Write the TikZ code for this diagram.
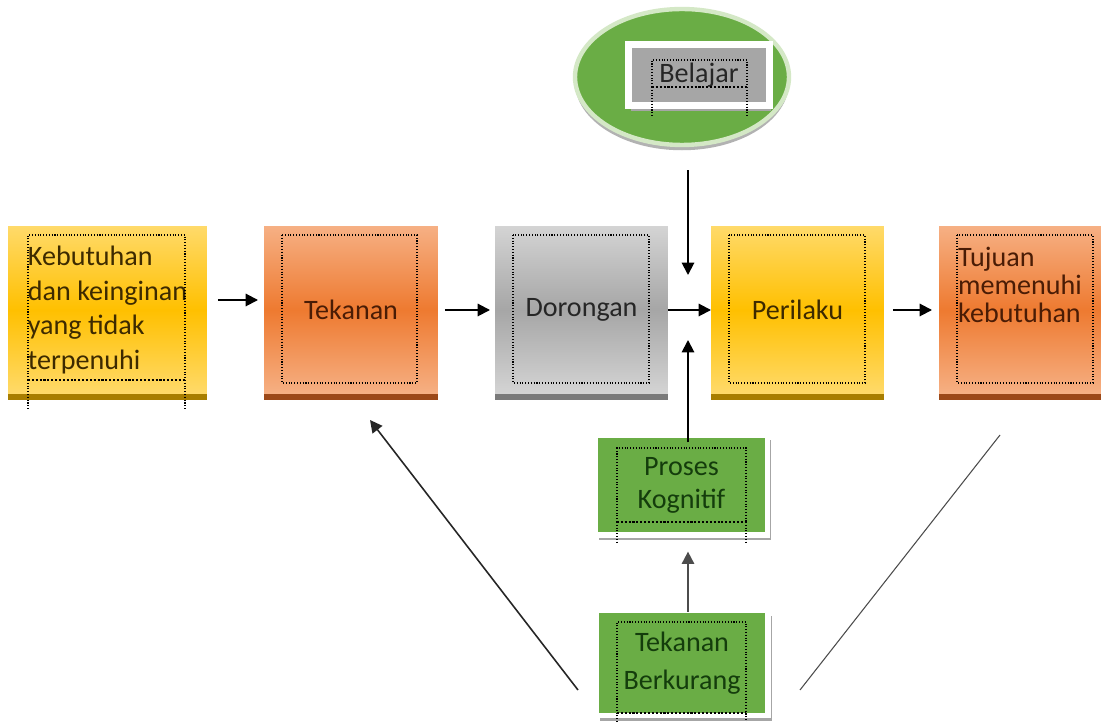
\documentclass[tikz,border=0pt]{standalone}
\usepackage{fontspec}
\setmainfont{Carlito}
\usetikzlibrary{shapes.geometric, arrows.meta, positioning, calc, shadows}

\definecolor{gold}{HTML}{FFC000}
\definecolor{goldlight}{HTML}{FFDA6A}
\definecolor{golddark}{HTML}{A87E00}
\definecolor{goldink}{HTML}{3D2A00}
\definecolor{tangerine}{HTML}{EE7A30}
\definecolor{tangerinelight}{HTML}{F6B084}
\definecolor{tangerinedark}{HTML}{9C4818}
\definecolor{tangerineink}{HTML}{4A1C05}
\definecolor{silver}{HTML}{A6A6A6}
\definecolor{silverlight}{HTML}{D4D4D4}
\definecolor{silverdark}{HTML}{7A7A7A}
\definecolor{leaf}{HTML}{6AAD45}
\definecolor{leaflight}{HTML}{D4E8C6}
\definecolor{leafink}{HTML}{143D0C}

\begin{document}
\begin{tikzpicture}[x=0.02cm, y=-0.02cm,
    box/.style={rectangle, minimum height=3.36cm, inner sep=0pt, outer sep=0pt,
      align=left, font=\fontsize{16}{19.9}\selectfont},
    goldbox/.style={box, top color=goldlight, bottom color=goldlight, middle color=gold, text=goldink},
    orangebox/.style={box, top color=tangerinelight, bottom color=tangerinelight, middle color=tangerine, text=tangerineink},
    greybox/.style={box, top color=silverlight, bottom color=silverlight, middle color=silver, text=black!85},
    greenbox/.style={rectangle, fill=leaf, draw=white, line width=3pt, minimum width=3.44cm,
      align=center, text=leafink, drop shadow={shadow xshift=2pt, shadow yshift=-3pt, fill=gray!70, opacity=1}},
    arr/.style={-{Triangle[length=7pt,width=7pt]}, line width=1.1pt},
    textframe/.style={densely dotted, line width=0.6pt}]
    \fill[white] (0,0) rectangle (1102,722);
    \useasboundingbox (0,0) rectangle (1102,722);

    % Draw the row of boxes
    \node[goldbox, minimum width=3.98cm] (keb) at (107.5,310) {Kebutuhan\\dan keinginan\\yang tidak\\terpenuhi};
    \node[orangebox, minimum width=3.48cm] (tek) at (351,310) {Tekanan};
    \node[greybox, minimum width=3.46cm] (dor) at (581.5,310) {Dorongan};
    \node[goldbox, minimum width=3.46cm] (per) at (797.5,310) {Perilaku};
    \node[orangebox, minimum width=3.24cm] (tuj) at (1020,310) {};
    \node[text=tangerineink, align=left, inner sep=0pt, font=\fontsize{16}{15.9}\selectfont] (tujtext) at ($(tuj)+(0,-25)$) {Tujuan\\memenuhi\\kebutuhan};

    % Darker bottom edges
    \fill[golddark] (keb.south west) rectangle ($(keb.south east)+(0,6)$);
    \fill[tangerinedark] (tek.south west) rectangle ($(tek.south east)+(0,6)$);
    \fill[silverdark] (dor.south west) rectangle ($(dor.south east)+(0,6)$);
    \fill[golddark] (per.south west) rectangle ($(per.south east)+(0,6)$);
    \fill[tangerinedark] (tuj.south west) rectangle ($(tuj.south east)+(0,6)$);

    % Draw the ellipse on top
    \node[ellipse, minimum width=4.28cm, minimum height=2.72cm, fill=leaf, draw=leaflight, line width=2.5pt,
      drop shadow={shadow xshift=0pt, shadow yshift=-3pt, fill=gray!60, opacity=1}] (belell) at (682,77) {};
    \node[rectangle, fill=silver, draw=white, line width=4pt, minimum width=2.81cm, minimum height=1.22cm,
      text=black!85, font=\fontsize{16}{19}\selectfont,
      drop shadow={shadow xshift=1pt, shadow yshift=-3pt, fill=gray!70, opacity=1}] (bel) at (699,75) {Belajar};

    % Draw the green boxes below
    \node[greenbox, minimum height=2cm, font=\fontsize{16}{18.7}\selectfont] (pro) at (681.5,485) {Proses\\Kognitif};
    \node[greenbox, minimum height=2.1cm, font=\fontsize{16}{22}\selectfont] (ber) at (682,663) {Tekanan\\Berkurang};

    % Dotted text frames
    \draw[textframe] (28,380) -- (28,235) -- (185,235) -- (185,380);
    \draw[textframe, line width=1.2pt] (28,380) -- (185,380);
    \draw[textframe] (28,380) -- (28,410) (185,380) -- (185,410);
    \draw[textframe] (282,235) rectangle (417,383);
    \draw[textframe] (513,235) rectangle (649,383);
    \draw[textframe] (729,235) rectangle (865,383);
    \draw[textframe] (957,235) rectangle (1093,383);
    \draw[textframe] (652,87) -- (652,60) -- (747,60) -- (747,87);
    \draw[textframe, line width=1.2pt] (652,87) -- (747,87);
    \draw[textframe] (652,87) -- (652,117) (747,87) -- (747,117);
    \draw[textframe] (617,522) -- (617,448) -- (746,448) -- (746,522);
    \draw[textframe, line width=1.2pt] (617,522) -- (746,522);
    \draw[textframe] (617,522) -- (617,542) (746,522) -- (746,542);
    \draw[textframe] (617,722) -- (617,622) -- (746,622) -- (746,722);
    \draw[textframe, line width=1.2pt] (617,713) -- (746,713);

    % Arrows between the boxes
    \coordinate (join) at (688,310);
    \draw[arr] ($(keb.east)+(11,-10)$) -- ($(tek.west)+(-6,-10)$);
    \draw[arr] ($(tek.east)+(7,0)$) -- ($(dor.west)+(-5,0)$);
    \draw[arr] (dor) -- (per);
    \draw[arr] ($(per.east)+(9,0)$) -- ($(tuj.west)+(-7,0)$);
    \draw[arr, shorten <=0.46cm, shorten >=0.7cm] (join |- belell.south) -- (join);
    \draw[arr, shorten <=-0.2cm, shorten >=0.6cm] (join |- pro.north) -- (join);
    \draw[arr, black!70, shorten <=-0.08cm, shorten >=0.28cm] (join |- ber.north) -- (join |- pro.south);

    % Feedback lines
    \coordinate (backL) at (578,690);
    \coordinate (backLtip) at (370,420);
    \coordinate (backR) at (800,690);
    \coordinate (backRtop) at (1000,435);
    \draw[arr, line width=0.9pt, black!85] (backL) -- (backLtip);
    \draw[line width=0.6pt, black!70] (backR) -- (backRtop);
\end{tikzpicture}
\end{document}
